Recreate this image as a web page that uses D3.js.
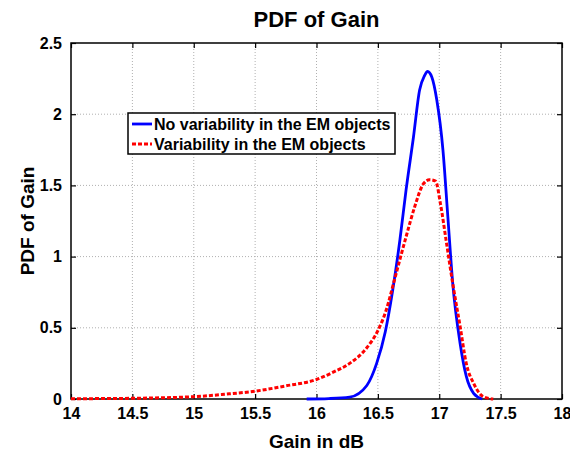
<!DOCTYPE html>
<html lang="en">
<head>
  <meta charset="UTF-8">
  <title>PDF of Gain</title>
  <script src="https://d3js.org/d3.v7.min.js"></script>
  <style>
    body {
      margin: 0;
      padding: 0;
      background: #fff;
      font-family: 'Liberation Sans', Arial, sans-serif;
    }
    .grid line {
      stroke: #b0b0b0;
      stroke-dasharray: 1,2;
    }
    .tick-label {
      font-size: 16px;
      font-weight: bold;
      fill: #000;
    }
  </style>
</head>
<body>
  <div id="chart"></div>

  <script>
    // x ticks / y ticks
    const xTicks = [14, 14.5, 15, 15.5, 16, 16.5, 17, 17.5, 18];
    const yTicks = [0, 0.5, 1, 1.5, 2, 2.5];

    // No variability (blue, solid)
    const blueGain = [15.92, 16.10, 16.27, 16.41, 16.49, 16.56, 16.62, 16.68, 16.73, 16.79, 16.84, 16.88, 16.905, 16.94, 16.98, 17.03, 17.07, 17.11, 17.17, 17.22, 17.28, 17.35];
    const bluePdf  = [0, 0.003, 0.013, 0.095, 0.25, 0.47, 0.76, 1.12, 1.47, 1.84, 2.17, 2.27, 2.30, 2.26, 2.10, 1.75, 1.28, 0.81, 0.39, 0.16, 0.04, 0];

    // Variability (red, dotted)
    const redGain = [14.0, 14.5, 15.0, 15.25, 15.5, 15.75, 16.0, 16.14, 16.27, 16.41, 16.50, 16.57, 16.63, 16.73, 16.80, 16.87, 16.92, 16.97, 17.01, 17.06, 17.11, 17.17, 17.22, 17.28, 17.36, 17.44];
    const redPdf  = [0.002, 0.005, 0.016, 0.033, 0.055, 0.092, 0.137, 0.19, 0.25, 0.36, 0.48, 0.63, 0.82, 1.14, 1.35, 1.51, 1.54, 1.53, 1.37, 1.09, 0.81, 0.51, 0.25, 0.11, 0.016, 0];

    const seriesNames = ["No variability in the EM objects", "Variability in the EM objects"];

    const W = 570, H = 456;
    const margin = { top: 43, right: 8, bottom: 57, left: 71 };
    const width = W - margin.left - margin.right,
          height = H - margin.top - margin.bottom;

    const svg = d3.select("#chart").append("svg")
      .attr("width", W)
      .attr("height", H);

    const g = svg.append("g")
      .attr("transform", "translate(" + margin.left + "," + margin.top + ")");

    const x = d3.scaleLinear().domain([14, 18]).range([0, width]);
    const y = d3.scaleLinear().domain([0, 2.5]).range([height, 0]);

    // grid
    g.append("g").attr("class", "grid")
      .selectAll("line")
      .data(xTicks.slice(1, -1))
      .enter().append("line")
      .attr("x1", d => x(d)).attr("x2", d => x(d))
      .attr("y1", 0).attr("y2", height);

    g.append("g").attr("class", "grid")
      .selectAll("line")
      .data(yTicks.slice(1, -1))
      .enter().append("line")
      .attr("x1", 0).attr("x2", width)
      .attr("y1", d => y(d)).attr("y2", d => y(d));

    // axes with inward ticks (box style)
    const tickLen = 5;
    g.append("g")
      .attr("transform", "translate(0," + height + ")")
      .call(d3.axisBottom(x).tickValues(xTicks).tickSize(-tickLen).tickPadding(9).tickFormat(d3.format("")))
      .call(a => a.select(".domain").remove())
      .selectAll("text").attr("class", "tick-label");

    g.append("g")
      .call(d3.axisTop(x).tickValues(xTicks).tickSize(-tickLen).tickFormat(""))
      .call(a => a.select(".domain").remove());

    g.append("g")
      .call(d3.axisLeft(y).tickValues(yTicks).tickSize(-tickLen).tickPadding(9).tickFormat(d3.format("")))
      .call(a => a.select(".domain").remove())
      .selectAll("text").attr("class", "tick-label");

    g.append("g")
      .attr("transform", "translate(" + width + ",0)")
      .call(d3.axisRight(y).tickValues(yTicks).tickSize(-tickLen).tickFormat(""))
      .call(a => a.select(".domain").remove());

    g.selectAll(".tick line").attr("stroke", "#000").attr("stroke-width", 1.2);

    g.append("rect")
      .attr("width", width).attr("height", height)
      .attr("fill", "none").attr("stroke", "#000").attr("stroke-width", 1.5);

    // curves
    const line = d3.line()
      .x(d => x(d[0]))
      .y(d => y(d[1]))
      .curve(d3.curveMonotoneX);

    const redData = d3.zip(redGain, redPdf);
    const blueData = d3.zip(blueGain, bluePdf);

    g.append("path")
      .datum(blueData)
      .attr("d", line)
      .attr("fill", "none")
      .attr("stroke", "#0000ff")
      .attr("stroke-width", 2.8);

    g.append("path")
      .datum(redData)
      .attr("d", line)
      .attr("fill", "none")
      .attr("stroke", "#ff0000")
      .attr("stroke-width", 3)
      .attr("stroke-dasharray", "4,2");

    // legend
    const leg = svg.append("g").attr("transform", "translate(128,113)");
    leg.append("rect")
      .attr("width", 267).attr("height", 41)
      .attr("fill", "#fff").attr("stroke", "#000").attr("stroke-width", 1.5);
    const styles = [
      { color: "#0000ff", dash: null, w: 2.8 },
      { color: "#ff0000", dash: "4,2", w: 3 }
    ];
    seriesNames.forEach((name, i) => {
      const yy = 11 + i * 20;
      leg.append("line")
        .attr("x1", 4).attr("x2", 24)
        .attr("y1", yy).attr("y2", yy)
        .attr("stroke", styles[i].color)
        .attr("stroke-width", styles[i].w)
        .attr("stroke-dasharray", styles[i].dash);
      leg.append("text")
        .attr("x", 26).attr("y", yy + 6)
        .attr("font-size", 16).attr("font-weight", "bold")
        .text(name);
    });

    // titles
    svg.append("text")
      .attr("x", margin.left + width / 2).attr("y", 27)
      .attr("text-anchor", "middle")
      .attr("font-size", 22).attr("font-weight", "bold")
      .text("PDF of Gain");

    svg.append("text")
      .attr("x", margin.left + width / 2).attr("y", 448)
      .attr("text-anchor", "middle")
      .attr("font-size", 19).attr("font-weight", "bold")
      .text("Gain in dB");

    svg.append("text")
      .attr("transform", "translate(34," + (margin.top + height / 2) + ") rotate(-90)")
      .attr("text-anchor", "middle")
      .attr("font-size", 19).attr("font-weight", "bold")
      .text("PDF of Gain");
  </script>
</body>
</html>
